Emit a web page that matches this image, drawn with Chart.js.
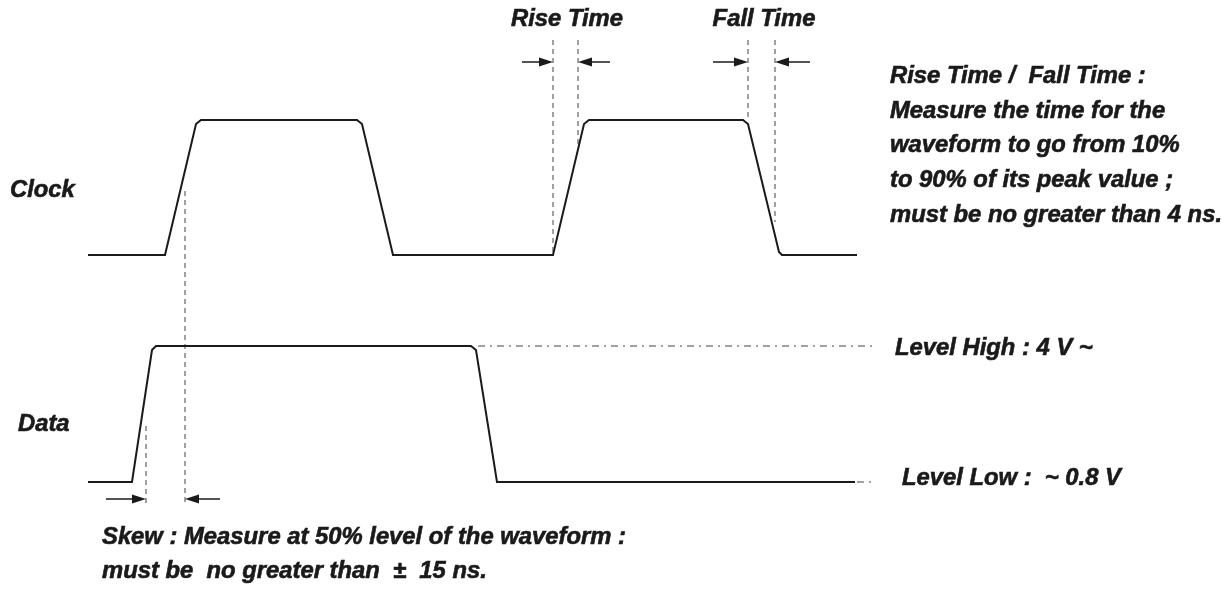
<!DOCTYPE html>
<html>
<head>
<meta charset="utf-8">
<script src="https://cdn.jsdelivr.net/npm/chart.js@4/dist/chart.umd.min.js"></script>
<style>
    body { margin: 0; background: #fff; }
    #wrap { width: 1232px; height: 590px; }
</style>
</head>
<body>
<div id="wrap"><canvas id="timingChart" width="1232" height="590"></canvas></div>
<script>
// waveform points (time units across, level units down)
var clockX = [88, 165, 196, 201, 357, 362, 393, 553, 584, 589, 743, 748, 779, 782, 857];
var clockY = [255, 255, 124, 120, 120, 124, 255, 255, 124, 120, 120, 124, 252, 255, 255];
var dataX = [88, 132, 152, 156, 471, 476, 497, 855];
var dataY = [482, 482, 350, 346, 346, 350, 482, 482];

// measurement guides [x, yFrom, yTo]
var guideLines = [[146, 426, 505], [185, 191, 505], [553, 40, 255], [578, 40, 148], [748, 40, 121], [775, 40, 222]];
// dash-dot level lines [xFrom, xTo, y]
var levelLines = [[478, 872, 346], [857, 876, 482]];
// arrows [xTail, xHead, y]
var arrows = [[522, 553, 62], [610, 578, 62], [713, 748, 62], [810, 775, 62], [106, 146, 499], [220, 185, 499]];
// labels [text, x, y, align]
var labels = [
    ['Rise Time', 567, 20, 'center'],
    ['Fall Time', 764, 20, 'center'],
    ['Clock', 10, 191, 'left'],
    ['Data', 18, 425, 'left'],
    ['Rise Time /  Fall Time :', 890, 77, 'left'],
    ['Measure the time for the', 890, 112, 'left'],
    ['waveform to go from 10%', 890, 146, 'left'],
    ['to 90% of its peak value ;', 890, 181, 'left'],
    ['must be no greater than 4 ns.', 890, 216, 'left'],
    ['Level High : 4 V ~', 895, 349, 'left'],
    ['Level Low :  ~ 0.8 V', 902, 479, 'left'],
    ['Skew : Measure at 50% level of the waveform :', 102, 538, 'left'],
    ['must be  no greater than  \u00b1  15 ns.', 102, 572, 'left']
];

function toPoints(xs, ys) {
    var pts = [];
    for (var i = 0; i < xs.length; i++) {
        pts.push({ x: xs[i], y: ys[i] });
    }
    return pts;
}

var datasets = [];
datasets.push({ data: toPoints(clockX, clockY), borderColor: '#1a1a1a', borderWidth: 2 });
datasets.push({ data: toPoints(dataX, dataY), borderColor: '#1a1a1a', borderWidth: 2 });
guideLines.forEach(function (g) {
    datasets.push({ data: [{ x: g[0], y: g[1] }, { x: g[0], y: g[2] }], borderColor: '#444', borderWidth: 1, borderDash: [5, 4] });
});
levelLines.forEach(function (l) {
    datasets.push({ data: [{ x: l[0], y: l[2] }, { x: l[1], y: l[2] }], borderColor: '#444', borderWidth: 1, borderDash: [7, 5, 2, 5] });
});

var annotate = {
    id: 'annotate',
    afterDatasetsDraw: function (chart) {
        var ctx = chart.ctx;
        var xs = chart.scales.x, ys = chart.scales.y;
        ctx.save();
        ctx.strokeStyle = '#1a1a1a';
        ctx.fillStyle = '#1a1a1a';
        ctx.lineWidth = 1.5;
        arrows.forEach(function (a) {
            var x0 = xs.getPixelForValue(a[0]);
            var x1 = xs.getPixelForValue(a[1]);
            var y = ys.getPixelForValue(a[2]);
            var dir = x1 > x0 ? 1 : -1;
            ctx.beginPath();
            ctx.moveTo(x0, y);
            ctx.lineTo(x1 - dir * 10, y);
            ctx.stroke();
            ctx.beginPath();
            ctx.moveTo(x1, y);
            ctx.lineTo(x1 - dir * 14, y - 4.5);
            ctx.lineTo(x1 - dir * 14, y + 4.5);
            ctx.closePath();
            ctx.fill();
        });
        ctx.font = 'italic bold 23px "Liberation Sans", Arial, sans-serif';
        ctx.textBaseline = 'middle';
        ctx.lineWidth = 0.6;
        labels.forEach(function (t) {
            ctx.save();
            ctx.translate(xs.getPixelForValue(t[1]), ys.getPixelForValue(t[2]));
            ctx.scale(1.035, 1);
            ctx.textAlign = t[3];
            ctx.fillText(t[0], 0, 0);
            ctx.strokeText(t[0], 0, 0);
            ctx.restore();
        });
        ctx.restore();
    }
};

new Chart(document.getElementById('timingChart').getContext('2d'), {
    type: 'scatter',
    data: { datasets: datasets },
    options: {
        responsive: false,
        animation: false,
        layout: { padding: 0 },
        elements: {
            point: { radius: 0 },
            line: { tension: 0, fill: false }
        },
        datasets: { scatter: { showLine: true } },
        scales: {
            x: { type: 'linear', min: 0, max: 1232, display: false },
            y: { type: 'linear', min: 0, max: 590, reverse: true, display: false }
        },
        plugins: {
            legend: { display: false },
            tooltip: { enabled: false }
        }
    },
    plugins: [annotate]
});
</script>
</body>
</html>
